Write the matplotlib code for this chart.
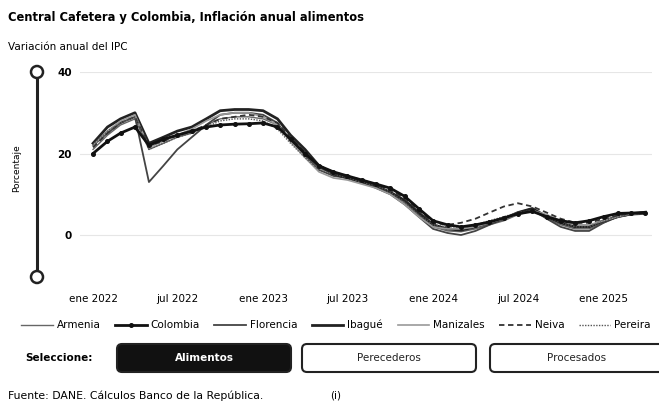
import matplotlib
matplotlib.use("Agg")
import matplotlib.pyplot as plt
from matplotlib.patches import FancyBboxPatch, Circle
import pandas as pd

plt.rcParams["font.family"] = ["DejaVu Sans"]

months = pd.date_range("2022-01-01", periods=40, freq="MS")

armenia = [21.0, 24.5, 27.0, 28.5, 21.0, 22.5, 24.0, 25.0, 27.0, 28.5, 29.0, 29.0, 28.5, 27.0,
           23.5, 20.0, 16.5, 15.0, 14.0, 13.0, 12.0, 10.5, 8.0, 5.0, 2.0, 1.0, 0.8, 1.5, 2.5,
           3.5, 5.0, 6.0, 4.0, 2.5, 1.5, 1.5, 3.0, 4.5, 5.0, 5.3]
colombia = [20.0, 23.0, 25.0, 26.5, 22.0, 23.5, 24.5, 25.5, 26.5, 27.0, 27.2, 27.3, 27.5, 26.5,
            23.5, 20.0, 17.0, 15.5, 14.5, 13.5, 12.5, 11.5, 9.5, 6.5, 3.5, 2.5, 2.0, 2.5, 3.2,
            4.2, 5.2, 5.8, 4.5, 3.5, 3.0, 3.5, 4.5, 5.3, 5.4, 5.5]
florencia = [22.0, 25.0, 27.5, 29.0, 13.0, 17.0, 21.0, 24.0, 27.0, 29.5, 30.0, 30.0, 29.5, 27.5,
             23.0, 19.5, 16.0, 14.5, 14.0, 13.0, 11.5, 10.0, 7.5, 4.5, 1.5, 0.5, 0.0, 1.0, 2.5,
             4.0, 5.5, 6.5, 4.0, 2.0, 1.0, 1.0, 3.0, 4.5, 5.0, 5.2]
ibague = [22.5, 26.5, 28.5, 30.0, 22.5, 24.0, 25.5, 26.5, 28.5, 30.5, 30.8, 30.8, 30.5, 28.5,
          24.5, 21.0, 17.0, 15.0, 14.0, 13.0, 12.0, 10.5, 8.5, 5.5, 2.5, 1.5, 1.2, 2.0, 3.0,
          4.0, 5.5, 6.5, 4.5, 3.0, 2.0, 2.0, 3.5, 4.5, 5.2, 5.6]
manizales = [22.0, 25.5, 28.0, 29.5, 21.5, 23.0, 24.5, 26.0, 28.0, 29.5, 30.0, 30.0, 29.0, 27.0,
             23.0, 19.0, 15.5, 14.0, 13.5, 12.5, 11.5, 10.0, 7.5, 4.5, 2.0, 1.5, 1.5, 2.0, 3.0,
             4.0, 5.0, 6.0, 5.0, 3.5, 2.5, 2.5, 3.5, 4.5, 5.2, 5.5]
neiva = [21.5, 25.0, 27.5, 29.0, 22.0, 23.0, 24.5, 25.5, 27.0, 28.5, 29.0, 29.5, 29.0, 27.5,
         24.0, 20.5, 17.0, 15.5, 14.5, 13.5, 12.5, 11.0, 9.0, 6.0, 3.0, 2.5, 3.0, 4.0, 5.5,
         7.0, 7.8, 7.0, 5.5, 4.0, 3.0, 3.0, 4.0, 4.8, 5.3, 5.6]
pereira = [22.0, 25.5, 27.5, 29.0, 21.0, 22.5, 24.0, 25.0, 26.5, 28.0, 28.5, 28.5, 28.0, 26.0,
           22.5, 19.0, 16.0, 15.0, 14.0, 13.0, 12.0, 10.5, 8.0, 5.0, 2.5, 2.0, 2.0, 2.5, 3.5,
           4.5, 5.5, 6.0, 4.5, 3.0, 2.0, 2.0, 3.5, 4.5, 5.0, 5.4]

tick_dates = pd.to_datetime(["2022-01-01", "2022-07-01", "2023-01-01", "2023-07-01",
                             "2024-01-01", "2024-07-01", "2025-01-01"])
tick_labels = ["ene 2022", "jul 2022", "ene 2023", "jul 2023", "ene 2024", "jul 2024", "ene 2025"]
buttons = ["Alimentos", "Perecederos", "Procesados"]

W, H = 659, 403
fig = plt.figure(figsize=(W / 100, H / 100), dpi=100)

# main plot area, placed in pixel terms
L, R, T, B = 80, 652, 72, 277
ax = fig.add_axes([L / W, 1 - B / H, (R - L) / W, (B - T) / H])

ax.plot(months, armenia, color="#666666", lw=1.0, label="Armenia")
ax.plot(months, colombia, color="#111111", lw=2.0, marker="o", ms=2.6, label="Colombia", zorder=5)
ax.plot(months, florencia, color="#444444", lw=1.3, label="Florencia")
ax.plot(months, ibague, color="#222222", lw=2.0, label="Ibagué")
ax.plot(months, manizales, color="#999999", lw=1.2, label="Manizales")
ax.plot(months, neiva, color="#333333", lw=1.3, ls=(0, (3, 2)), label="Neiva")
ax.plot(months, pereira, color="#555555", lw=1.0, ls=(0, (1, 1)), label="Pereira")

ax.set_ylim(-10.3, 40)
ax.set_yticks([0, 20, 40])
ax.set_xlim(months[0] - pd.Timedelta(days=28), months[-1] + pd.Timedelta(days=14))
ax.set_xticks(tick_dates)
ax.set_xticklabels(tick_labels)
ax.tick_params(length=0, labelsize=7.5, pad=12)
ax.tick_params(axis="y", pad=6)
for lab in ax.get_yticklabels():
    lab.set_fontweight("bold")
ax.grid(axis="y", color="#e6e6e6", lw=0.8)
for s in ax.spines.values():
    s.set_visible(False)

fig.legend(loc="center left", bbox_to_anchor=(12 / W, 1 - 325 / H), ncol=7, frameon=False,
           fontsize=7.5, handlelength=3.0, handletextpad=0.4, columnspacing=1.4)

# overlay in pixel coordinates for texts, navigator and buttons
ui = fig.add_axes([0, 0, 1, 1], zorder=-1)
ui.set_xlim(0, W)
ui.set_ylim(H, 0)
ui.axis("off")

ui.text(8, 18, "Central Cafetera y Colombia, Inflación anual alimentos",
        fontsize=8.3, fontweight="bold", va="center")
ui.text(8, 47, "Variación anual del IPC", fontsize=7.5, va="center")
ui.text(17, 168, "Porcentaje", fontsize=6.5, rotation=90, ha="center", va="center")

ui.plot([37, 37], [72, 277], color="#222222", lw=2.2)
for yy in (72, 277):
    ui.add_patch(Circle((37, yy), 6, facecolor="white", edgecolor="#222222", lw=1.8, zorder=3))

ui.text(25, 358, "Seleccione:", fontsize=7.5, fontweight="bold", va="center")
box_x = [117, 302, 490]
for i, name in enumerate(buttons):
    active = i == 0
    ui.add_patch(FancyBboxPatch((box_x[i], 344), 174, 28,
                                boxstyle="round,pad=0,rounding_size=5",
                                facecolor="#111111" if active else "white",
                                edgecolor="#222222", lw=1.5))
    ui.text(box_x[i] + 87, 358, name, fontsize=7.5, ha="center", va="center",
            color="white" if active else "#222222",
            fontweight="bold" if active else "normal")

ui.text(8, 396, "Fuente: DANE. Cálculos Banco de la República.", fontsize=7.8, va="center")
ui.text(330, 396, "(i)", fontsize=7.5, va="center")

fig.savefig("out.png", dpi=100)
